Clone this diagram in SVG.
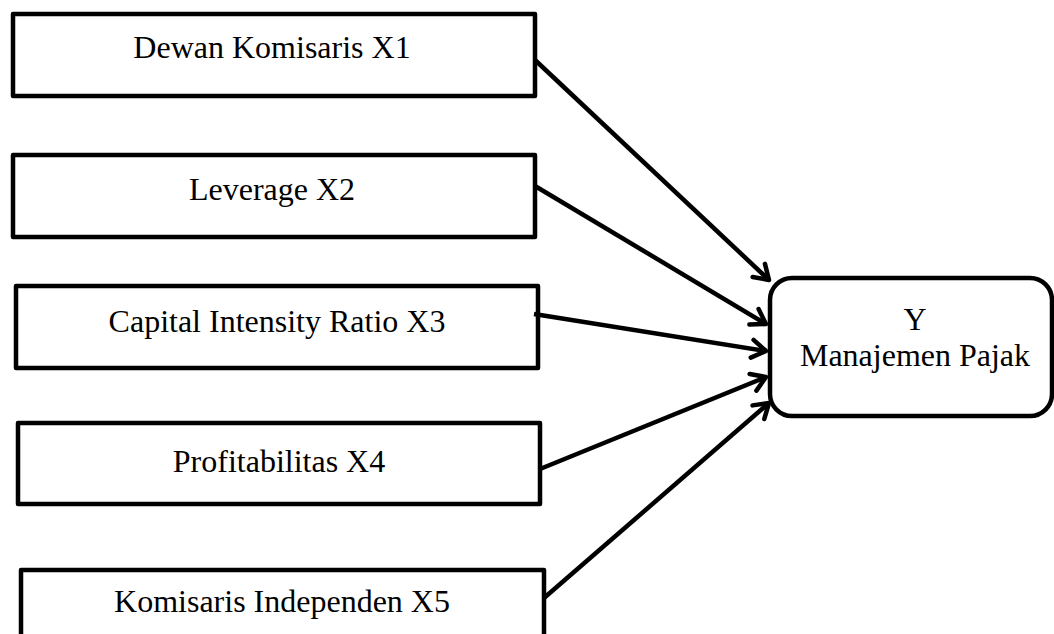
<svg xmlns="http://www.w3.org/2000/svg" width="1054" height="634" viewBox="0 0 1054 634">
<style>
.box{fill:#fff;stroke:#000;stroke-width:4.5;stroke-linejoin:round}
.t{font-family:"Liberation Serif","Times New Roman",serif;font-size:32px;fill:#000;text-anchor:middle}
.c{stroke:#000;stroke-width:4.5;fill:none;marker-end:url(#ah)}
</style>
<defs>
<marker id="ah" viewBox="0 0 24 24" refX="18" refY="12" markerWidth="24" markerHeight="24" markerUnits="userSpaceOnUse" orient="auto" overflow="visible">
<path d="M4,3 L18,12 L4,21" fill="none" stroke="#000" stroke-width="4.5" stroke-linecap="round" stroke-linejoin="round"/>
</marker>
</defs>
<g id="x1"><rect class="box" x="13" y="14" width="522" height="82"/><text class="t" x="272" y="58">Dewan Komisaris X1</text></g>
<g id="x2"><rect class="box" x="13" y="155" width="522" height="82"/><text class="t" x="272" y="200">Leverage X2</text></g>
<g id="x3"><rect class="box" x="16" y="286" width="522" height="82"/><text class="t" x="277" y="332">Capital Intensity Ratio X3</text></g>
<g id="x4"><rect class="box" x="18" y="423" width="522" height="81"/><text class="t" x="279" y="472">Profitabilitas X4</text></g>
<g id="x5"><rect class="box" x="21" y="570" width="523" height="80"/><text class="t" x="282" y="612">Komisaris Independen X5</text></g>
<g id="y"><rect class="box" x="770" y="278" width="282" height="138" rx="22"/><text class="t" x="915" y="330">Y</text><text class="t" x="915" y="366">Manajemen Pajak</text></g>
<g id="connectors">
<line class="c" x1="535" y1="60" x2="769" y2="280"/>
<line class="c" x1="535" y1="186" x2="766" y2="324"/>
<line class="c" x1="534" y1="314" x2="766" y2="351"/>
<line class="c" x1="540" y1="469" x2="766" y2="377"/>
<line class="c" x1="544" y1="598" x2="769" y2="403"/>
</g>
</svg>
